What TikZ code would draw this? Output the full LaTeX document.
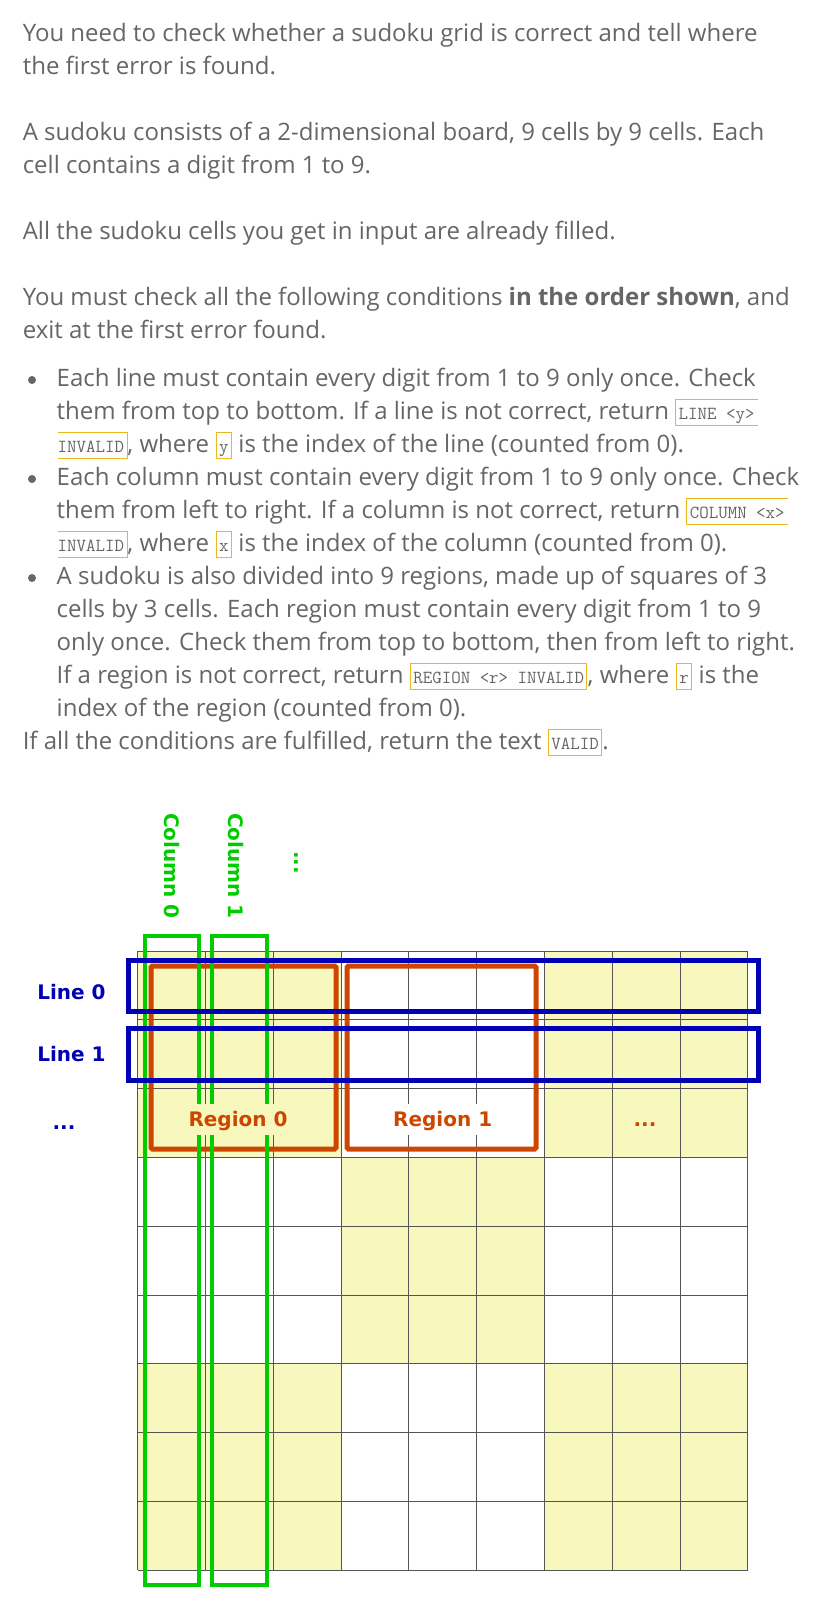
\documentclass[tikz,border=0pt]{standalone}
\usepackage{fontspec}
\setmainfont{Open Sans}
\newfontfamily\lblfont{DejaVu Sans}
\definecolor{txtgray}{HTML}{666666}
\definecolor{codeedge}{RGB}{236,183,26}
\definecolor{cellyel}{RGB}{248,247,190}
\definecolor{gridgray}{HTML}{555555}
\definecolor{lineblue}{RGB}{0,0,180}
\definecolor{colgreen}{RGB}{0,204,0}
\definecolor{regorange}{RGB}{204,70,0}

\begin{document}
\begin{tikzpicture}[x=1pt,y=-1pt,
  txt/.style={anchor=base west,inner sep=0pt,text=txtgray,font=\fontsize{24}{33}\selectfont},
  code/.style={anchor=base west,inner xsep=3pt,inner ysep=4pt,text height=16pt,text depth=2pt,
    text=txtgray,font=\ttfamily\fontsize{18.4}{22}\selectfont},
  codebox/.style={code,draw=codeedge,line width=1pt},
  edge/.style={draw=codeedge,line width=1pt},
  dot/.style={circle,fill=txtgray,inner sep=0pt,minimum size=8pt},
  gridline/.style={draw=gridgray,line width=1pt},
  linebox/.style={draw=lineblue,line width=5pt},
  regbox/.style={draw=regorange,line width=5pt,rounded corners=1.5pt},
  colbox/.style={draw=colgreen,line width=4.5pt},
  lbl/.style={font=\lblfont\bfseries\fontsize{20}{24}\selectfont,inner sep=0pt},
  tag/.style={lbl,text=regorange,anchor=base,text height=16pt,text depth=3pt,inner xsep=5pt,inner ysep=6pt}]
  \useasboundingbox (0,0) rectangle (836,1611);
  \fill[white] (0,0) rectangle (836,1611);
  % ---------- paragraphs ----------
  \node[txt] (p1a) at (22.6,41.5) {You need to check whether a sudoku grid is correct and tell where};
  \node[txt] (p1b) at (22.6,74.5) {the first error is found.};
  \node[txt] (p2a) at (22.6,140.5) {A sudoku consists of a 2-dimensional board, 9 cells by 9 cells. Each};
  \node[txt] (p2b) at (22.6,173.5) {cell contains a digit from 1 to 9.};
  \node[txt] (p3a) at (22.6,239.5) {All the sudoku cells you get in input are already filled.};
  \node[txt] (p4a) at (22.6,305.5) {You must check all the following conditions \textbf{in the order shown}, and};
  \node[txt] (p4b) at (22.6,338.5) {exit at the first error found.};
  % ---------- bullet: lines ----------
  \node[dot] (d1) at (32,380) {};
  \node[txt] (b1a) at (56.5,386.5) {Each line must contain every digit from 1 to 9 only once. Check};
  \node[txt] (b1b) at (56.5,419.5) {them from top to bottom. If a line is not correct, return};
  \node[code] (c1a) at ([xshift=6.2pt]b1b.base east) {LINE <y>};
  \draw[edge] (c1a.north east) -- (c1a.north west) -- (c1a.south west) -- (c1a.south east);
  \node[code] (c1b) at (54.5,452.5) {INVALID};
  \draw[edge] ([xshift=3pt]c1b.north west) -- (c1b.north east) -- (c1b.south east) -- ([xshift=3pt]c1b.south west);
  \node[txt] (b1c) at (c1b.base east) {, where};
  \node[codebox] (c1y) at ([xshift=6.2pt]b1c.base east) {y};
  \node[txt] (b1d) at ([xshift=6.2pt]c1y.base east) {is the index of the line (counted from 0).};
  % ---------- bullet: columns ----------
  \node[dot] (d2) at (32,479) {};
  \node[txt] (b2a) at (56.5,485.5) {Each column must contain every digit from 1 to 9 only once. Check};
  \node[txt] (b2b) at (56.5,518.5) {them from left to right. If a column is not correct, return};
  \node[code] (c2a) at ([xshift=6.2pt]b2b.base east) {COLUMN <x>};
  \draw[edge] (c2a.north east) -- (c2a.north west) -- (c2a.south west) -- (c2a.south east);
  \node[code] (c2b) at (54.5,551.5) {INVALID};
  \draw[edge] ([xshift=3pt]c2b.north west) -- (c2b.north east) -- (c2b.south east) -- ([xshift=3pt]c2b.south west);
  \node[txt] (b2c) at (c2b.base east) {, where};
  \node[codebox] (c2x) at ([xshift=6.2pt]b2c.base east) {x};
  \node[txt] (b2d) at ([xshift=6.2pt]c2x.base east) {is the index of the column (counted from 0).};
  % ---------- bullet: regions ----------
  \node[dot] (d3) at (32,578) {};
  \node[txt] (b3a) at (56.5,584.5) {A sudoku is also divided into 9 regions, made up of squares of 3};
  \node[txt] (b3b) at (56.5,617.5) {cells by 3 cells. Each region must contain every digit from 1 to 9};
  \node[txt] (b3c) at (56.5,650.5) {only once. Check them from top to bottom, then from left to right.};
  \node[txt] (b3d) at (56.5,683.5) {If a region is not correct, return};
  \node[codebox] (c3a) at ([xshift=6.2pt]b3d.base east) {REGION <r> INVALID};
  \node[txt] (b3e) at (c3a.base east) {, where};
  \node[codebox] (c3r) at ([xshift=6.2pt]b3e.base east) {r};
  \node[txt] (b3f) at ([xshift=6.2pt]c3r.base east) {is the};
  \node[txt] (b3g) at (56.5,716.5) {index of the region (counted from 0).};
  % ---------- closing line ----------
  \node[txt] (p5a) at (22.6,749.5) {If all the conditions are fulfilled, return the text};
  \node[codebox] (c5) at ([xshift=6.2pt]p5a.base east) {VALID};
  \node[txt] (p5b) at (c5.base east) {.};
  % ---------- board ----------
  \begin{scope}[shift={(137.6,951)},x=67.8pt,y=-68.8pt]
    \fill[cellyel] (0,0) rectangle (3,3);
    \fill[cellyel] (6,0) rectangle (9,3);
    \fill[cellyel] (3,3) rectangle (6,6);
    \fill[cellyel] (0,6) rectangle (3,9);
    \fill[cellyel] (6,6) rectangle (9,9);
    \foreach \i in {0,...,9} {
      \draw[gridline] (\i,0) -- (\i,9);
      \draw[gridline] (0,\i) -- (9,\i);
    }
  \end{scope}
  % ---------- regions, columns, lines ----------
  \draw[regbox] (151,966) rectangle (336,1149);
  \draw[regbox] (347,966) rectangle (536,1149);
  \draw[colbox] (145,936) rectangle (199,1585);
  \draw[colbox] (212,936) rectangle (267,1585);
  \draw[linebox] (128,960) rectangle (758,1011);
  \draw[linebox] (128,1028) rectangle (758,1080);
  % ---------- labels ----------
  \node[lbl,text=lineblue,anchor=base] (line0) at (71.5,999) {Line 0};
  \node[lbl,text=lineblue,anchor=base] (line1) at (71.5,1061) {Line 1};
  \node[lbl,text=lineblue,anchor=base] (linedots) at (64,1129) {...};
  \node[tag,fill=cellyel] (reg0) at (238,1126) {Region 0};
  \node[tag,fill=white] (reg1) at (442.7,1126) {Region 1};
  \node[lbl,text=regorange,anchor=base] (regdots) at (645,1126) {...};
  \node[lbl,text=colgreen,rotate=-90,anchor=base west] (col0) at (164.5,813) {Column 0};
  \node[lbl,text=colgreen,rotate=-90,anchor=base west] (col1) at (228.5,813) {Column 1};
  \node[lbl,text=colgreen,rotate=-90,anchor=base west] (coldots) at (294.5,851) {...};
\end{tikzpicture}
\end{document}
